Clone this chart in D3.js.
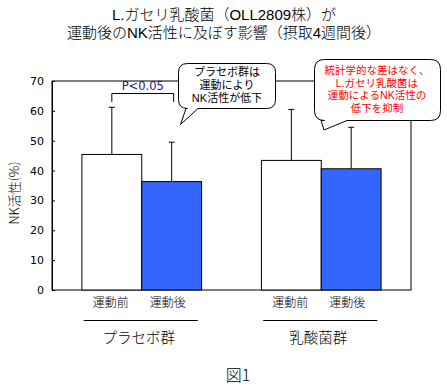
<!DOCTYPE html>
<html><head><meta charset="utf-8">
<script src="https://cdn.jsdelivr.net/npm/d3@7"></script>
<style>
body{margin:0;background:#fff;}
text{font-family:"Noto Sans CJK JP","Noto Sans",sans-serif;font-weight:300;}
text.note{font-family:"Liberation Sans","Noto Sans CJK JP",sans-serif;font-weight:400;}
text.title{font-family:"Liberation Sans","Noto Sans CJK JP",sans-serif;font-weight:300;}
</style></head>
<body><svg id="c" width="447" height="392"></svg>
<script>
const groups = ["プラセボ群", "乳酸菌群"];
const phases = ["運動前", "運動後"];
const placeboMeans = [45.4, 36.3];
const lactoMeans = [43.4, 40.6];
const placeboSD = [15.8, 13.2];
const lactoSD = [17.1, 13.9];
const yTicks = [0, 10, 20, 30, 40, 50, 60, 70];
const titleLines = ["L.ガセリ乳酸菌（OLL2809株）が", "運動後のNK活性に及ぼす影響（摂取4週間後）"];
const note1 = ["プラセボ群は", "運動により", "NK活性が低下"];
const note2 = ["統計学的な差はなく、", "L.ガセリ乳酸菌は", "運動によるNK活性の", "低下を抑制"];
const sigLabel = "P<0.05";
const yLabel = "NK活性(%)";
const figLabel = "図1";

const data = [];
groups.forEach((g, gi) => phases.forEach((p, pi) => {
  data.push({g, p, v: (gi === 0 ? placeboMeans : lactoMeans)[pi], e: (gi === 0 ? placeboSD : lactoSD)[pi]});
}));

const svg = d3.select("#c");
const L = 52, R = 411, T = 81, B = 290;
const x0 = d3.scaleBand().domain(groups).range([L, R]).padding(0);
const x1 = d3.scaleBand().domain(phases).range([0, x0.bandwidth()]).paddingInner(0).paddingOuter(0.5);
const y = d3.scaleLinear().domain([0, 70]).range([B, T]);
const color = d3.scaleOrdinal().domain(phases).range(["#ffffff", "#3366ff"]);

// title (one text, two lines)
const tt = svg.append("text").attr("class", "title").attr("text-anchor", "middle").attr("font-size", 15).attr("fill", "#000");
tt.selectAll("tspan").data(titleLines).join("tspan")
  .attr("x", 224).attr("y", (d, i) => 20 + i * 18).text(d => d);

// y axis
const yAxis = d3.axisLeft(y).tickValues(yTicks).tickSizeInner(-3).tickSizeOuter(0).tickPadding(8);
const ga = svg.append("g").attr("transform", `translate(${L},0)`).call(yAxis);
ga.select(".domain").attr("stroke", "#000");
ga.selectAll(".tick line").attr("stroke", "#000");
ga.selectAll(".tick text").attr("font-size", 11).attr("fill", "#000")
  .style("font-family", "'DejaVu Sans',sans-serif").style("font-weight", 400);

// frame
svg.append("rect").attr("x", L).attr("y", T).attr("width", R - L).attr("height", B - T)
  .attr("fill", "none").attr("stroke", "#000").attr("stroke-width", 1);

// error bars
const cx = d => x0(d.g) + x1(d.p) + x1.bandwidth() / 2;
const eg = svg.append("g").attr("stroke", "#000").attr("stroke-width", 1);
eg.selectAll("line.v").data(data).join("line").attr("class", "v")
  .attr("x1", cx).attr("x2", cx).attr("y1", d => y(d.v)).attr("y2", d => y(d.v + d.e));
eg.selectAll("line.c").data(data).join("line").attr("class", "c")
  .attr("x1", d => cx(d) - 3).attr("x2", d => cx(d) + 3).attr("y1", d => y(d.v + d.e)).attr("y2", d => y(d.v + d.e));

// bars
svg.append("g").selectAll("rect").data(data).join("rect")
  .attr("x", d => x0(d.g) + x1(d.p)).attr("y", d => y(d.v))
  .attr("width", x1.bandwidth()).attr("height", d => y(0) - y(d.v))
  .attr("fill", d => color(d.p)).attr("stroke", "#000").attr("stroke-width", 1);

// significance bracket
const bx1 = cx(data[0]), bx2 = cx(data[1]) + 2;
svg.append("path").attr("d", `M${bx1},102V93.5H${bx2}V102`).attr("fill", "none").attr("stroke", "#000");
svg.append("text").attr("x", (bx1 + bx2) / 2).attr("y", 90).attr("text-anchor", "middle")
  .attr("font-size", 11.5).attr("fill", "#1a1a80").style("font-family", "'DejaVu Sans',sans-serif")
  .style("font-weight", 400).text(sigLabel);

// callouts
function bubble(x0b, y0b, x1b, y1b, r, tl, tr, tipx, tipy) {
  return `M${x0b + r},${y0b}H${x1b - r}Q${x1b},${y0b} ${x1b},${y0b + r}V${y1b - r}Q${x1b},${y1b} ${x1b - r},${y1b}` +
    `H${tr}L${tipx},${tipy}L${tl},${y1b}H${x0b + r}Q${x0b},${y1b} ${x0b},${y1b - r}V${y0b + r}Q${x0b},${y0b} ${x0b + r},${y0b}Z`;
}
svg.append("path").attr("d", bubble(178.5, 63.5, 275.5, 108.5, 9, 186, 198, 180.5, 124.5))
  .attr("fill", "#fff").attr("stroke", "#000").attr("stroke-width", 1);
const n1 = svg.append("text").attr("class", "note").attr("text-anchor", "middle").attr("font-size", 11).attr("fill", "#000");
n1.selectAll("tspan").data(note1).join("tspan")
  .attr("x", 227).attr("y", (d, i) => 76 + i * 13).text(d => d);

svg.append("path").attr("d", bubble(314.5, 59.5, 440.5, 120.5, 10, 321, 347, 324, 130))
  .attr("fill", "#fff").attr("stroke", "#000").attr("stroke-width", 1);
const n2 = svg.append("text").attr("class", "note").attr("text-anchor", "middle").attr("font-size", 10.5).attr("fill", "#ff0000");
n2.selectAll("tspan").data(note2).join("tspan")
  .attr("x", 377).attr("y", (d, i) => 74 + i * 12.7).text(d => d);

// x labels
svg.append("g").selectAll("text").data(data).join("text")
  .attr("x", d => cx(d) - (d.p === phases[0] ? 1 : 4)).attr("y", 307).attr("text-anchor", "middle")
  .attr("font-size", 12).attr("fill", "#000").text(d => d.p);

// group underline and labels
const gx = g => x0(g) + x0.bandwidth() / 2;
svg.append("g").selectAll("line").data(groups).join("line")
  .attr("x1", g => gx(g) - 58).attr("x2", g => gx(g) + 56).attr("y1", 320.5).attr("y2", 320.5)
  .attr("stroke", "#000");
svg.append("g").selectAll("text").data(groups).join("text")
  .attr("x", g => gx(g) - 3).attr("y", 343).attr("text-anchor", "middle")
  .attr("font-size", 14.5).attr("fill", "#000").text(g => g);

// y label
svg.append("text").attr("transform", "translate(13,193) rotate(-90)")
  .attr("text-anchor", "middle").attr("dominant-baseline", "central")
  .attr("font-size", 13).attr("fill", "#000").text(yLabel);

// figure label
svg.append("text").attr("x", 238).attr("y", 381).attr("text-anchor", "middle")
  .attr("font-size", 16).attr("fill", "#000").text(figLabel);
</script></body></html>
